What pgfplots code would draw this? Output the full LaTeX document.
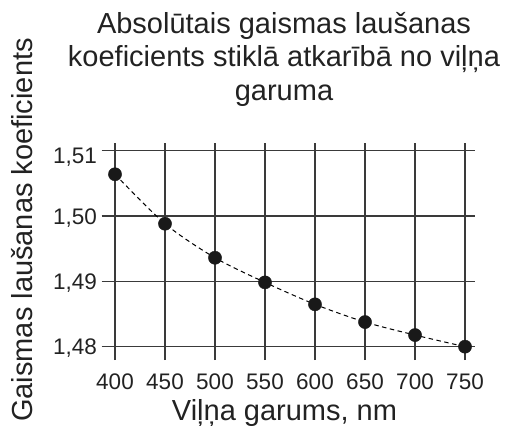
\documentclass[border=0pt]{standalone}
\usepackage{fontspec}
\setmainfont{Liberation Sans}
\usepackage{pgfplots}
\pgfplotsset{compat=1.18}
\definecolor{txt}{HTML}{222222}
\definecolor{gridc}{HTML}{3A3A3A}
\begin{document}
\begin{tikzpicture}[x=1bp,y=1bp]
\begin{axis}[
 at={(0,0)}, anchor=south west,
 scale only axis, width=373.3bp, height=216.7bp,
 xmin=386.7, xmax=760, ymin=1.47796, ymax=1.51113,
 axis line style={draw=none},
 major tick length=0pt,
 xtick={400,450,...,750}, ytick={1.48,1.49,1.50,1.51},
 xticklabels={400,450,500,550,600,650,700,750},
 yticklabels={{1,48},{1,49},{1,50},{\raisebox{-5bp}{1,51}}},
 grid=major,
 grid style={line width=1.4bp, color=gridc, solid},
 tick label style={font=\fontsize{22.5bp}{27bp}\selectfont, text=txt},
 xticklabel style={anchor=base, inner sep=0pt, yshift=-29bp},
 yticklabel style={anchor=base east, inner sep=0pt, xshift=-4.7bp, yshift=-8bp},
 clip=false,
]
\addplot[black, line width=1bp, dash pattern=on 4.5bp off 3.5bp, smooth, no marks] coordinates {
(400,1.50639) (450,1.49882) (500,1.49361) (550,1.48984) (600,1.48648) (650,1.48377) (700,1.48178) (750,1.48000)};
\addplot[only marks, mark=*, mark size=6.6bp, mark options={fill=black!90, draw=black!90}] coordinates {
(400,1.50639) (450,1.49882) (500,1.49361) (550,1.48984) (600,1.48648) (650,1.48377) (700,1.48178) (750,1.48000)};
\end{axis}
\begin{scope}[font=\fontsize{29bp}{34bp}\selectfont, text=txt]
\node[anchor=base, inner sep=0pt] at (182.3,327) {Absolūtais gaismas laušanas};
\node[anchor=base, inner sep=0pt] at (182.3,293.5) {koeficients stiklā atkarībā no viļņa};
\node[anchor=base, inner sep=0pt] at (182.3,260) {garuma};
\node[anchor=base, inner sep=0pt] at (182.8,-60) {Viļņa garums, nm};
\node[anchor=base, inner sep=0pt, rotate=90] at (-68.7,130) {Gaismas laušanas koeficients};
\end{scope}
\pgfresetboundingbox
\path[use as bounding box] (-101.7,-65) rectangle (403.3,360);
\end{tikzpicture}
\end{document}
